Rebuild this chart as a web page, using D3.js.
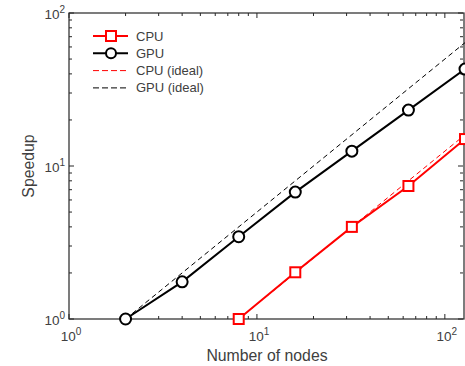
<!DOCTYPE html>
<html>
<head>
<meta charset="utf-8">
<script src="https://cdn.jsdelivr.net/npm/d3@7"></script>
<style>
  body { margin: 0; background: #fff; }
  svg { display: block; font-family: "Liberation Sans", Arial, sans-serif; }
</style>
</head>
<body>
<svg id="chart" width="465" height="366"></svg>
<script>
// data
const nodes = [2, 4, 8, 16, 32, 64, 128];
const gpuSpeedup = [1, 1.75, 3.45, 6.75, 12.5, 23.2, 43];
const cpuNodes = [8, 16, 32, 64, 128];
const cpuSpeedup = [1, 2.02, 4.0, 7.4, 15];
const gpuIdeal = [[2, 1], [128, 64]];
const cpuIdeal = [[8, 1], [128, 16]];
const legendLabels = ['CPU', 'GPU', 'CPU (ideal)', 'GPU (ideal)'];

const margin = { left: 69, top: 13, right: 0, bottom: 47 };
const width = 465, height = 366;

const svg = d3.select('#chart');

const x = d3.scaleLog().domain([1, 128]).range([margin.left, 465]);
const y = d3.scaleLog().domain([1, 100]).range([height - margin.bottom, margin.top]);

const axisColor = '#262626';
const textColor = '#404040';

// clip so lines stop at plot box
svg.append('defs').append('clipPath').attr('id', 'clip')
  .append('rect')
  .attr('x', margin.left - 8).attr('y', margin.top - 8)
  .attr('width', 465 - margin.left + 16).attr('height', y(1) - margin.top + 16);

// minor/major tick values
const xTicks = [];
[1, 10, 100].forEach((d) => {
  for (let i = 1; i <= 9; i++) if (d * i <= 128) xTicks.push(d * i);
});
const yTicks = [];
[1, 10].forEach((d) => {
  for (let i = 1; i <= 9; i++) yTicks.push(d * i);
});
yTicks.push(100);
const isMajor = (v) => Math.abs(Math.log10(v) - Math.round(Math.log10(v))) < 1e-9;

const ticks = svg.append('g').attr('stroke', axisColor).attr('stroke-width', 1);
const y0 = y(1), y1 = y(100), x0 = x(1), x1 = x(128);
xTicks.forEach((v) => {
  const len = isMajor(v) ? 5 : 3;
  ticks.append('line').attr('x1', x(v)).attr('x2', x(v)).attr('y1', y0).attr('y2', y0 - len);
  ticks.append('line').attr('x1', x(v)).attr('x2', x(v)).attr('y1', y1).attr('y2', y1 + len);
});
yTicks.forEach((v) => {
  const len = isMajor(v) ? 5 : 3;
  ticks.append('line').attr('y1', y(v)).attr('y2', y(v)).attr('x1', x0).attr('x2', x0 + len);
  ticks.append('line').attr('y1', y(v)).attr('y2', y(v)).attr('x1', x1 - 2).attr('x2', x1 - 2 - len);
});

// box
svg.append('rect')
  .attr('x', x0).attr('y', y1)
  .attr('width', x1 - x0 - 1).attr('height', y0 - y1)
  .attr('fill', 'none').attr('stroke', axisColor).attr('stroke-width', 1.2);

// tick labels
function powLabel(g, px, py, exp, anchor) {
  const t = g.append('text')
    .attr('x', px).attr('y', py)
    .attr('text-anchor', anchor)
    .attr('fill', textColor)
    .attr('font-size', 13.5);
  t.append('tspan').text('10');
  t.append('tspan').attr('dy', -6).attr('font-size', 10).text(exp);
}
const labels = svg.append('g');
[1, 10, 100].forEach((v, i) => powLabel(labels, x(v) + 2, y0 + 22, i, 'middle'));
[1, 10, 100].forEach((v, i) => powLabel(labels, x0 - 4, y(v) + 6, i, 'end'));

// axis titles
svg.append('text')
  .attr('x', 267).attr('y', 361)
  .attr('text-anchor', 'middle')
  .attr('fill', textColor)
  .attr('font-size', 15.8)
  .text('Number of nodes');
svg.append('text')
  .attr('transform', `translate(34,${y(10)}) rotate(-90)`)
  .attr('text-anchor', 'middle')
  .attr('fill', textColor)
  .attr('font-size', 15.8)
  .text('Speedup');

const line = d3.line().x((d) => x(d[0])).y((d) => y(d[1]));
const plot = svg.append('g').attr('clip-path', 'url(#clip)');

// ideal lines
plot.append('path').datum(gpuIdeal).attr('d', line)
  .attr('fill', 'none').attr('stroke', '#000').attr('stroke-width', 1)
  .attr('stroke-dasharray', '5,3.5');
plot.append('path').datum(cpuIdeal).attr('d', line)
  .attr('fill', 'none').attr('stroke', '#ff0000').attr('stroke-width', 1)
  .attr('stroke-dasharray', '5,3.5');

const gpuData = nodes.map((n, i) => [n, gpuSpeedup[i]]);
const cpuData = cpuNodes.map((n, i) => [n, cpuSpeedup[i]]);

plot.append('path').datum(gpuData).attr('d', line)
  .attr('fill', 'none').attr('stroke', '#000').attr('stroke-width', 2);
plot.append('path').datum(cpuData).attr('d', line)
  .attr('fill', 'none').attr('stroke', '#ff0000').attr('stroke-width', 2);

plot.selectAll('circle.gpu').data(gpuData).join('circle')
  .attr('class', 'gpu')
  .attr('cx', (d) => x(d[0])).attr('cy', (d) => y(d[1]))
  .attr('r', 5.5)
  .attr('fill', '#fff').attr('stroke', '#000').attr('stroke-width', 2);
plot.selectAll('rect.cpu').data(cpuData).join('rect')
  .attr('class', 'cpu')
  .attr('x', (d) => x(d[0]) - 5).attr('y', (d) => y(d[1]) - 5)
  .attr('width', 10).attr('height', 10)
  .attr('fill', '#fff').attr('stroke', '#ff0000').attr('stroke-width', 2);

// legend
const legend = svg.append('g');
const legendStyle = [
  { color: '#ff0000', width: 2, dash: null, marker: 'square' },
  { color: '#000', width: 2, dash: null, marker: 'circle' },
  { color: '#ff0000', width: 1, dash: '6,3', marker: null },
  { color: '#000', width: 1, dash: '6,3', marker: null },
];
legendLabels.forEach((lab, i) => {
  const ly = 36 + i * 17.3;
  const s = legendStyle[i];
  legend.append('line')
    .attr('x1', 93).attr('x2', 128).attr('y1', ly).attr('y2', ly)
    .attr('stroke', s.color).attr('stroke-width', s.width)
    .attr('stroke-dasharray', s.dash);
  if (s.marker === 'square') {
    legend.append('rect').attr('x', 106).attr('y', ly - 5).attr('width', 10).attr('height', 10)
      .attr('fill', '#fff').attr('stroke', s.color).attr('stroke-width', 2);
  } else if (s.marker === 'circle') {
    legend.append('circle').attr('cx', 111).attr('cy', ly).attr('r', 5)
      .attr('fill', '#fff').attr('stroke', s.color).attr('stroke-width', 2);
  }
  legend.append('text')
    .attr('x', 136).attr('y', ly + 4.5)
    .attr('fill', textColor)
    .attr('font-size', 13)
    .text(lab);
});
</script>
</body>
</html>
